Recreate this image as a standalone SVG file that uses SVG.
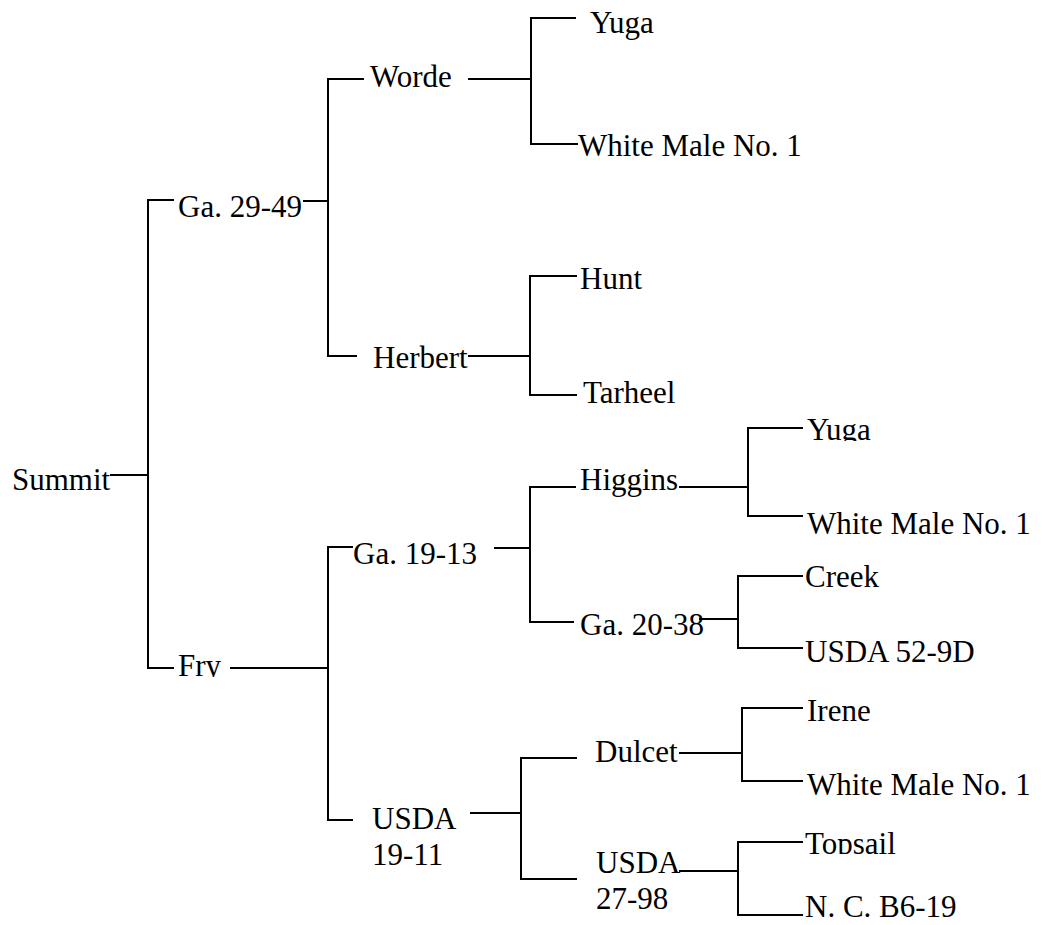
<svg xmlns="http://www.w3.org/2000/svg" width="1042" height="925" viewBox="0 0 1042 925">
<style>
.t text{font-size:31px;fill:#000}
.c line{stroke:#000;stroke-width:2;stroke-linecap:square}
</style>
<defs>
<clipPath id="clipFry"><rect x="170" y="640" width="70" height="37"/></clipPath>
<clipPath id="clipYuga2"><rect x="800" y="400" width="100" height="41"/></clipPath>
<clipPath id="clipUsda52"><rect x="800" y="620" width="200" height="42"/></clipPath>
<clipPath id="clipTopsail"><rect x="800" y="815" width="150" height="39"/></clipPath>
</defs>
<rect width="1042" height="925" fill="#fff"/>
<g id="connectors" class="c">
<line x1="111" y1="475" x2="148" y2="475"/>
<line x1="148" y1="200" x2="148" y2="668"/>
<line x1="148" y1="200" x2="173" y2="200"/>
<line x1="148" y1="668" x2="173" y2="668"/>
<line x1="304" y1="201" x2="328" y2="201"/>
<line x1="328" y1="79" x2="328" y2="356"/>
<line x1="328" y1="79" x2="363" y2="79"/>
<line x1="328" y1="356" x2="356" y2="356"/>
<line x1="469" y1="79" x2="531" y2="79"/>
<line x1="531" y1="18" x2="531" y2="144"/>
<line x1="531" y1="18" x2="575" y2="18"/>
<line x1="531" y1="144" x2="577" y2="144"/>
<line x1="469" y1="356" x2="530" y2="356"/>
<line x1="530" y1="276" x2="530" y2="395"/>
<line x1="530" y1="276" x2="576" y2="276"/>
<line x1="530" y1="395" x2="576" y2="395"/>
<line x1="231" y1="668" x2="328" y2="668"/>
<line x1="328" y1="547" x2="328" y2="820"/>
<line x1="328" y1="547" x2="352" y2="547"/>
<line x1="328" y1="820" x2="352" y2="820"/>
<line x1="495" y1="548" x2="530" y2="548"/>
<line x1="530" y1="487" x2="530" y2="622"/>
<line x1="530" y1="487" x2="575" y2="487"/>
<line x1="530" y1="622" x2="573" y2="622"/>
<line x1="680" y1="487" x2="748" y2="487"/>
<line x1="748" y1="428" x2="748" y2="516"/>
<line x1="748" y1="428" x2="802" y2="428"/>
<line x1="748" y1="516" x2="802" y2="516"/>
<line x1="700" y1="619" x2="738" y2="619"/>
<line x1="738" y1="576" x2="738" y2="648"/>
<line x1="738" y1="576" x2="802" y2="576"/>
<line x1="738" y1="648" x2="802" y2="648"/>
<line x1="471" y1="813" x2="521" y2="813"/>
<line x1="521" y1="758" x2="521" y2="879"/>
<line x1="521" y1="758" x2="576" y2="758"/>
<line x1="521" y1="879" x2="576" y2="879"/>
<line x1="680" y1="753" x2="742" y2="753"/>
<line x1="742" y1="708" x2="742" y2="781"/>
<line x1="742" y1="708" x2="802" y2="708"/>
<line x1="742" y1="781" x2="802" y2="781"/>
<line x1="680" y1="871" x2="738" y2="871"/>
<line x1="738" y1="842" x2="738" y2="915"/>
<line x1="738" y1="842" x2="802" y2="842"/>
<line x1="738" y1="915" x2="802" y2="915"/>
</g>
<g class="t" font-family="'Liberation Serif', 'Times New Roman', Tinos, 'Nimbus Roman', 'DejaVu Serif', serif">
<g id="summit"><text x="12" y="490">Summit</text></g>
<g id="ga2949"><text x="178" y="217">Ga. 29-49</text></g>
<g id="worde"><text x="370" y="87">Worde</text></g>
<g id="yuga1"><text x="590" y="33">Yuga</text></g>
<g id="wmn1a"><text x="578" y="156">White Male No. 1</text></g>
<g id="herbert"><text x="373" y="368">Herbert</text></g>
<g id="hunt"><text x="580" y="289">Hunt</text></g>
<g id="tarheel"><text x="583" y="403">Tarheel</text></g>
<g id="fry"><text x="178" y="676" clip-path="url(#clipFry)">Fry</text></g>
<g id="ga1913"><text x="353" y="564">Ga. 19-13</text></g>
<g id="higgins"><text x="580" y="490">Higgins</text></g>
<g id="yuga2"><text x="807" y="440" clip-path="url(#clipYuga2)">Yuga</text></g>
<g id="wmn1b"><text x="807" y="534">White Male No. 1</text></g>
<g id="ga2038"><text x="580" y="635">Ga. 20-38</text></g>
<g id="creek"><text x="805" y="587">Creek</text></g>
<g id="usda529d"><text x="805" y="662" clip-path="url(#clipUsda52)">USDA 52-9D</text></g>
<g id="usda1911"><text x="372" y="829">USDA</text><text x="372" y="865">19-11</text></g>
<g id="dulcet"><text x="595" y="762">Dulcet</text></g>
<g id="irene"><text x="807" y="721">Irene</text></g>
<g id="wmn1c"><text x="807" y="795">White Male No. 1</text></g>
<g id="usda2798"><text x="596" y="873">USDA</text><text x="596" y="909">27-98</text></g>
<g id="topsail"><text x="805" y="854" clip-path="url(#clipTopsail)">Topsail</text></g>
<g id="ncb619"><text x="805" y="917">N. C. B6-19</text></g>
</g>
</svg>
